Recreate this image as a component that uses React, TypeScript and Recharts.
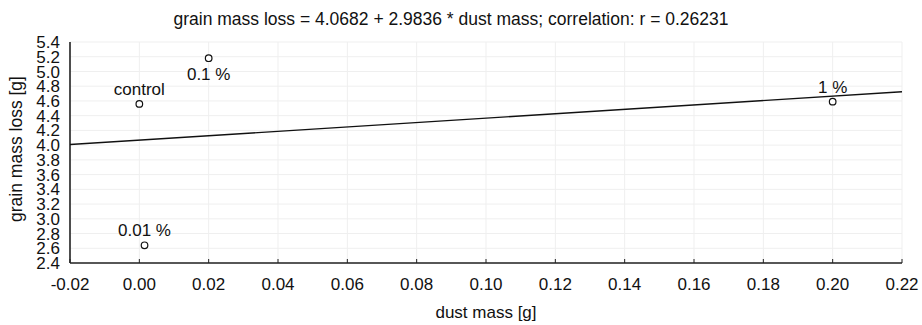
import { ScatterChart, Scatter, XAxis, YAxis, CartesianGrid } from 'recharts';

const treatments = ['control', '0.01 %', '0.1 %', '1 %'];
const dustMass = [0.0, 0.0015, 0.02, 0.2];
const grainLoss = [4.56, 2.64, 5.18, 4.59];

// regression line end points (grain mass loss = 4.0682 + 2.9836 * dust mass)
const fitDust = [-0.02, 0.22];
const fitLoss = [4.0085, 4.7246];

const xTicks = [-0.02, 0, 0.02, 0.04, 0.06, 0.08, 0.1, 0.12, 0.14, 0.16, 0.18, 0.2, 0.22];
const yTicks = [2.4, 2.6, 2.8, 3.0, 3.2, 3.4, 3.6, 3.8, 4.0, 4.2, 4.4, 4.6, 4.8, 5.0, 5.2, 5.4];

const labelsBelow = ['0.1 %'];

const points = treatments.map((name, i) => ({ name, x: dustMass[i], y: grainLoss[i] }));
const fit = fitDust.map((x, i) => ({ x, y: fitLoss[i] }));

const FONT = '"Liberation Sans", Arial, sans-serif';
const tickStyle = { fontSize: 17, fill: '#111', fontFamily: FONT };
const axisStroke = { stroke: '#222', strokeWidth: 1.6 };

function PointShape(props: any) {
  const { cx, cy, payload } = props;
  const below = labelsBelow.includes(payload.name);
  return (
    <g>
      <circle cx={cx} cy={cy} r={3.3} fill="#fff" stroke="#111" strokeWidth={1.2} />
      <text
        x={cx}
        y={below ? cy + 22 : cy - 9}
        textAnchor="middle"
        fontSize={17}
        fontFamily={FONT}
        fill="#111"
      >
        {payload.name}
      </text>
    </g>
  );
}

export default function App() {
  return (
    <div style={{ position: 'relative', width: 922, height: 325, background: '#fff' }}>
      <style>{'body{margin:0}'}</style>
      <ScatterChart
        width={922}
        height={325}
        margin={{ top: 42, right: 20, bottom: 0, left: 0 }}
      >
        <CartesianGrid stroke="#efefef" />
        <XAxis
          type="number"
          dataKey="x"
          domain={[-0.02, 0.22]}
          ticks={xTicks}
          interval={0}
          allowDataOverflow
          tickFormatter={(v: number) => v.toFixed(2)}
          tick={tickStyle}
          tickSize={-4}
          tickMargin={19}
          height={62}
          axisLine={axisStroke}
          tickLine={{ stroke: '#222' }}
          label={{
            value: 'dust mass [g]',
            position: 'insideBottom',
            offset: 7,
            style: { fontSize: 17, fill: '#111', fontFamily: FONT },
          }}
        />
        <XAxis
          xAxisId="top"
          orientation="top"
          type="number"
          domain={[-0.02, 0.22]}
          ticks={xTicks}
          interval={0}
          allowDataOverflow
          tickFormatter={() => ''}
          tickSize={-4}
          height={0}
          axisLine={axisStroke}
          tickLine={{ stroke: '#222' }}
        />
        <YAxis
          type="number"
          dataKey="y"
          domain={[2.4, 5.4]}
          ticks={yTicks}
          interval={0}
          allowDataOverflow
          tickFormatter={(v: number) => v.toFixed(1)}
          tick={tickStyle}
          tickLine={false}
          tickSize={0}
          tickMargin={10}
          width={70}
          axisLine={axisStroke}
        />
        <YAxis
          yAxisId="right"
          orientation="right"
          type="number"
          domain={[2.4, 5.4]}
          ticks={yTicks}
          interval={0}
          allowDataOverflow
          tickFormatter={() => ''}
          tickSize={-4}
          width={0}
          axisLine={axisStroke}
          tickLine={{ stroke: '#222' }}
        />
        <Scatter
          data={fit}
          line={{ stroke: '#111', strokeWidth: 1.4 }}
          shape={() => <g />}
          isAnimationActive={false}
        />
        <Scatter data={points} shape={PointShape} isAnimationActive={false} />
      </ScatterChart>
      <svg
        width={922}
        height={325}
        style={{ position: 'absolute', left: 0, top: 0, pointerEvents: 'none' }}
      >
        <text x={451} y={25} textAnchor="middle" fontSize={17.5} fontFamily={FONT} fill="#111">
          grain mass loss = 4.0682 + 2.9836 * dust mass; correlation: r = 0.26231
        </text>
        <text
          x={22}
          y={149}
          transform="rotate(-90 22 149)"
          textAnchor="middle"
          fontSize={17.5}
          fontFamily={FONT}
          fill="#111"
        >
          grain mass loss [g]
        </text>
      </svg>
    </div>
  );
}
